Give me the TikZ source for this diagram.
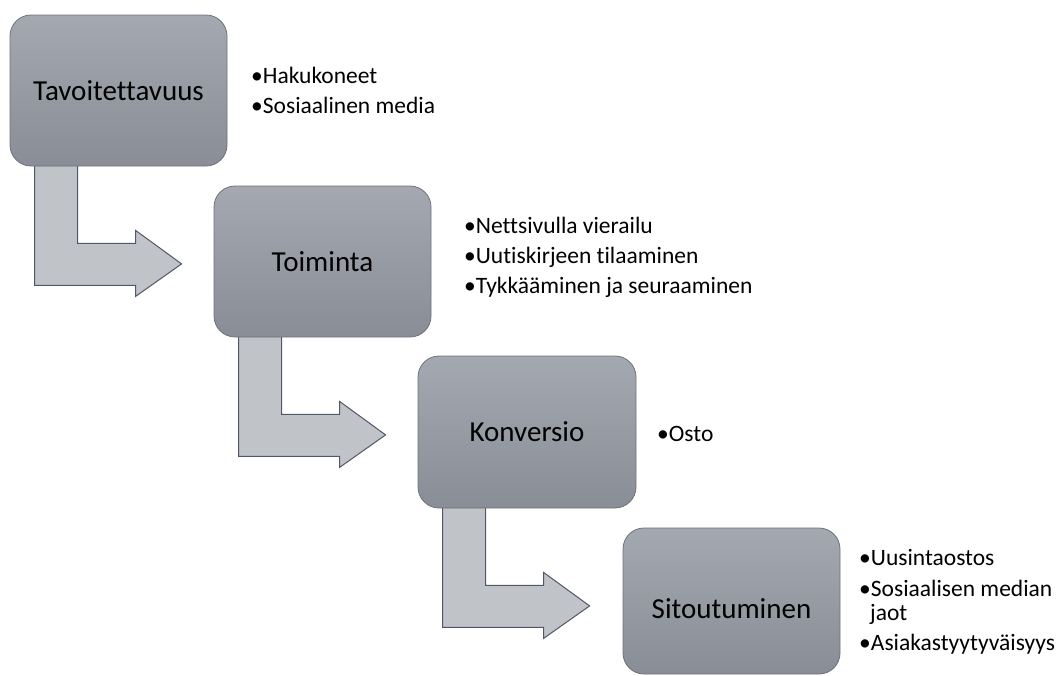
\documentclass[tikz,border=0pt]{standalone}
\usepackage{fontspec}
\setmainfont{Carlito}[Ligatures={NoCommon}]
\definecolor{boxtop}{HTML}{A4A9B1}
\definecolor{boxbot}{HTML}{888D96}
\definecolor{boxline}{HTML}{6E727A}
\definecolor{arrowfill}{HTML}{C0C3C8}
\definecolor{arrowline}{HTML}{4E586A}
\pgfdeclarelayer{bg}
\pgfsetlayers{bg,main}
\begin{document}
\begin{tikzpicture}[x=1pt,y=-1pt,
  stagebox/.style={draw=boxline, line width=0.8pt, rounded corners=21pt,
    top color=boxtop, bottom color=boxbot, minimum width=217pt,
    minimum height=151pt, inner sep=0pt},
  titletext/.style={anchor=base, inner sep=0pt, font=\fontsize{29}{35}\selectfont},
  bullettext/.style={anchor=base west, inner sep=0pt, font=\fontsize{23.5}{28}\selectfont},
  arrowshape/.style={fill=arrowfill, draw=arrowline, line width=1pt, line join=miter},
  bentarrow/.pic={\draw[arrowshape] (0,-8) -- (43,-8) -- (43,77) -- (101,77) -- (101,64)
      -- (147,97.5) -- (101,130) -- (101,119) -- (0,119) -- cycle;}]
\useasboundingbox (0,0) rectangle (1059,675);
% boxes
\node[stagebox] (a) at (118.5,90.5) {};
\node[stagebox] (b) at (322.5,261.5) {};
\node[stagebox, minimum width=218pt, minimum height=152pt] (c) at (527,432) {};
\node[stagebox, minimum height=146pt] (d) at (731.5,601) {};
% arrows
\begin{pgfonlayer}{bg}
\pic (ab) at ([xshift=25pt]a.south west) {bentarrow};
\pic (bc) at ([xshift=25pt]b.south west) {bentarrow};
\pic (cd) at ([xshift=25pt]c.south west) {bentarrow};
\end{pgfonlayer}
% titles
\node[titletext] (at) at (118.5,100) {Tavoitettavuus};
\node[titletext] (bt) at (322.5,271) {Toiminta};
\node[titletext] (ct) at (527,441) {Konversio};
\node[titletext] (dt) at (731.5,618) {Sitoutuminen};
% bullets
\node[bullettext] (a1) at (251,83) {•Hakukoneet};
\node[bullettext] (a2) at (251,113) {•Sosiaalinen media};
\node[bullettext] (b1) at (464,233) {•Nettsivulla vierailu};
\node[bullettext] (b2) at (464,263) {•Uutiskirjeen tilaaminen};
\node[bullettext] (b3) at (464,293) {•Tykkääminen ja seuraaminen};
\node[bullettext] (c1) at (657,441) {•Osto};
\node[bullettext] (d1) at (859,565) {•Uusintaostos};
\node[bullettext] (d2) at (859,596) {•Sosiaalisen median};
\node[bullettext] (d3) at (870,620) {jaot};
\node[bullettext] (d4) at (859,650) {•Asiakastyytyväisyys};
\end{tikzpicture}
\end{document}
